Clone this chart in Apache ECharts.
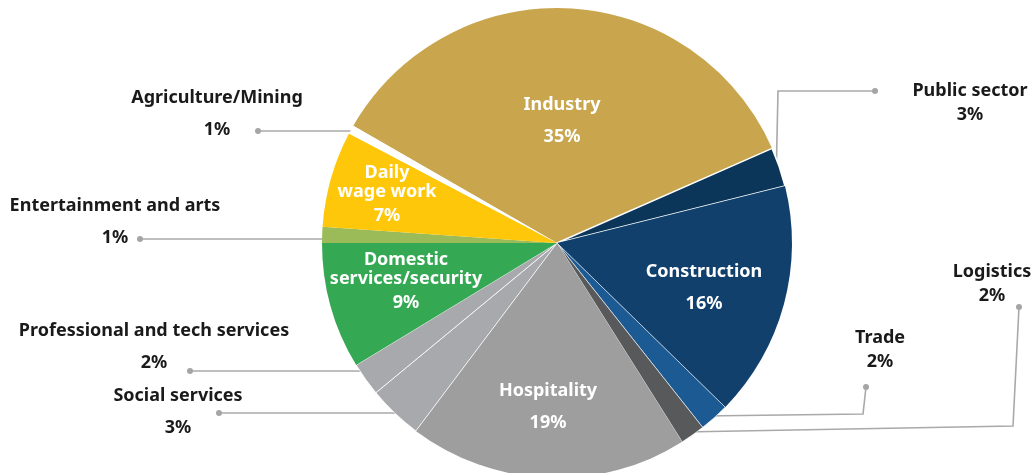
<!DOCTYPE html>
<html><head><meta charset="utf-8">
<script src="https://cdn.jsdelivr.net/npm/echarts@6/dist/echarts.min.js"></script>
<style>html,body{margin:0;padding:0;background:#fff}#c{width:1035px;height:473px}</style>
</head><body><div id="c"></div>
<script>
// ---- data ----
const categories = ['Industry', 'Public sector', 'Construction', 'Trade', 'Logistics', 'Hospitality',
  'Social services', 'Professional and tech services', 'Domestic\nservices/security',
  'Entertainment and arts', 'Daily\nwage work', 'Agriculture/Mining'];
// slice shares
const shares = [35.1, 2.7, 16.2, 2.05, 1.7, 19.2, 3.75, 2.3, 8.7, 1.1, 6.6, 0.6];
// percentages printed on the chart
const pctLabels = ['35%', '3%', '16%', '2%', '2%', '19%', '3%', '2%', '9%', '1%', '7%', '1%'];

// ---- styles & layout ----
const colors = ['#C9A54D', '#0C3659', '#12406D', '#1C5A94', '#58595B', '#9E9E9E',
  '#A8A9AC', '#A8A9AC', '#34A853', '#9BBB59', '#FFC709', '#FFFFFF'];
const borders = [0, 1.5, 0, 0.6, 0.6, 0, 0.8, 0.8, 0, 0, 0, 0];
const FONT = '"Noto Sans", "Open Sans", sans-serif';
// kind: in2 / in3 (inside), outL / outR (outside); x,y = top-centre of text block
const placement = [
  {kind: 'in2', x: 562, y: 95},
  {kind: 'outR', x: 970, y: 81, line: [[875, 91], [778, 91], [776, 184]]},
  {kind: 'in2', x: 704, y: 262},
  {kind: 'outR', x: 880, y: 328, line: [[866, 387], [863, 414], [702, 416]]},
  {kind: 'outR', x: 992, y: 262, line: [[1019, 307], [1013, 426], [683, 432]]},
  {kind: 'in2', x: 548, y: 381},
  {kind: 'outL', x: 178, y: 386, line: [[219, 413], [397, 413]]},
  {kind: 'outL', x: 154, y: 321, line: [[190, 371], [362, 371]]},
  {kind: 'in3', x: 406, y: 250},
  {kind: 'outL', x: 115, y: 196, line: [[140, 239], [325, 239]]},
  {kind: 'in3', x: 387, y: 163},
  {kind: 'outL', x: 217, y: 88, line: [[258, 131], [356, 131]]}
];
const kinds = {
  in2: {color: '#FFFFFF', nLH: 20, pLH: 44},
  in3: {color: '#FFFFFF', nLH: 19, pLH: 30},
  outL: {color: '#1A1A1A', nLH: 20, pLH: 44},
  outR: {color: '#1A1A1A', nLH: 20, pLH: 28}
};

const data = categories.map((name, i) => {
  const P = placement[i], K = kinds[P.kind];
  const inside = P.kind.startsWith('in');
  const txt = {fontFamily: FONT, fontSize: 18, fontWeight: 'bold', color: K.color, align: 'center'};
  return {
    name: name,
    value: shares[i],
    itemStyle: {color: colors[i], borderColor: '#FFFFFF', borderWidth: borders[i]},
    label: {
      show: true,
      position: inside ? 'inside' : 'outside',
      formatter: name.split('\n').map(s => '{n|' + s + '}').join('\n') + '\n{p|' + pctLabels[i] + '}',
      rich: {
        n: Object.assign({lineHeight: K.nLH}, txt),
        p: Object.assign({lineHeight: K.pLH}, txt)
      }
    },
    labelLine: {show: !inside, lineStyle: {color: '#A9A9A9', width: 1.6}}
  };
});

const dots = placement.filter(p => p.line).map(p => ({
  type: 'circle', shape: {cx: p.line[0][0], cy: p.line[0][1], r: 3},
  style: {fill: '#A5A5A8'}, z: 100
}));

const chart = echarts.init(document.getElementById('c'), null, {renderer: 'canvas'});
chart.setOption({
  animation: false,
  backgroundColor: '#FFFFFF',
  graphic: dots,
  series: [{
    type: 'pie',
    center: [557, 243],
    radius: 235,
    startAngle: 150.1,
    clockwise: true,
    avoidLabelOverlap: false,
    emphasis: {disabled: true},
    data: data,
    labelLayout: function (p) {
      const P = placement[p.dataIndex];
      const r = {x: P.x, y: P.y, align: 'center', verticalAlign: 'top'};
      if (P.line) r.labelLinePoints = P.line;
      return r;
    }
  }]
});
</script>
</body></html>
